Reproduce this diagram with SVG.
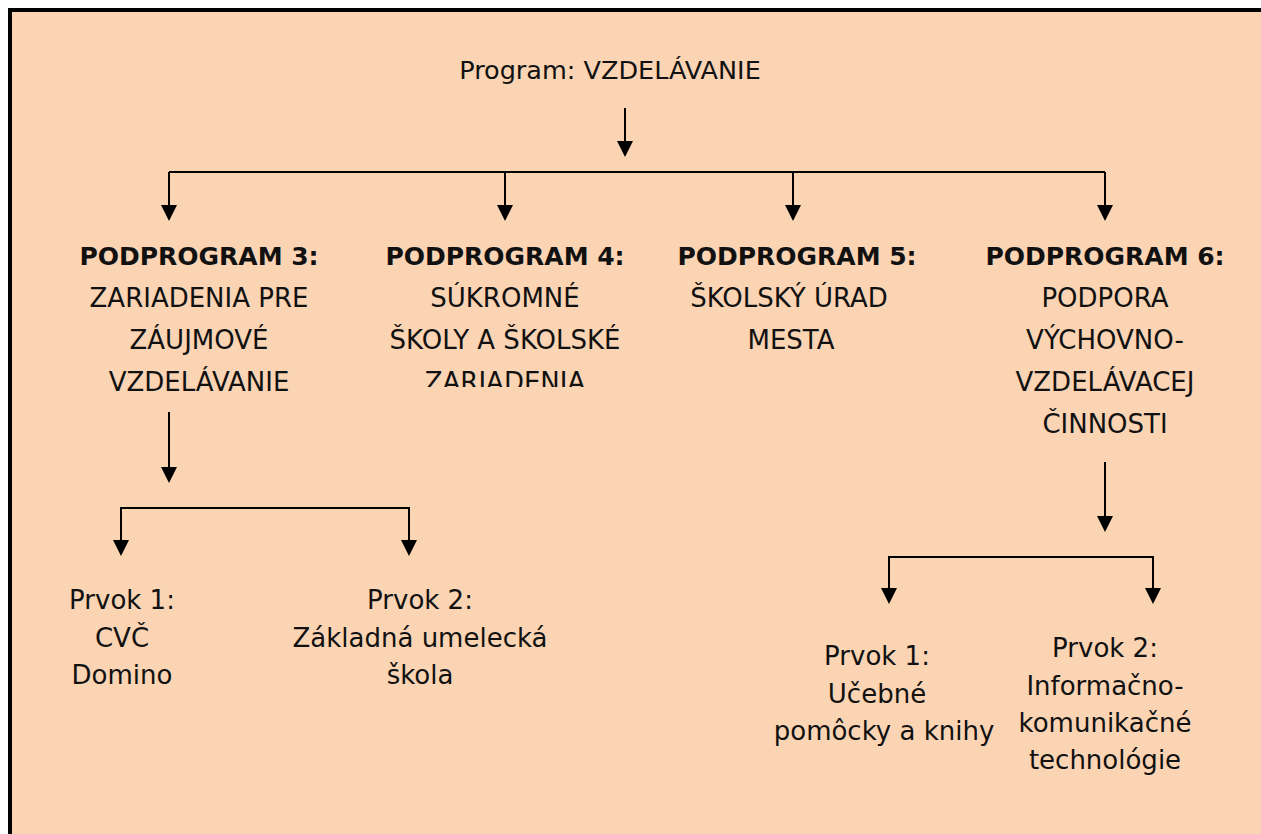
<svg xmlns="http://www.w3.org/2000/svg" width="1261" height="834" viewBox="0 0 1261 834">
<defs>
<style>
.t{font-family:"DejaVu Sans","Liberation Sans",sans-serif;font-size:26px;fill:#111;text-anchor:middle}
.h{font-weight:bold;font-size:25px}
.p{font-size:25.5px}
.c{stroke:#000;stroke-width:2;fill:none}
</style>
<clipPath id="clip4"><rect x="300" y="360" width="400" height="27"/></clipPath>
</defs>
<rect x="0" y="0" width="1261" height="834" fill="#fff"/>
<rect x="8" y="8" width="1253" height="826" fill="#000"/>
<rect x="12" y="12" width="1249" height="822" fill="#FBD4B4"/>

<g id="connectors">
<path class="c" d="M625,108 V143"/><path d="M617,141 L633,141 L625,157 Z"/>
<path class="c" d="M169,172 H1105"/>
<path class="c" d="M169,172 V207"/><path d="M161,205 L177,205 L169,221 Z"/>
<path class="c" d="M505,172 V207"/><path d="M497,205 L513,205 L505,221 Z"/>
<path class="c" d="M793,172 V207"/><path d="M785,205 L801,205 L793,221 Z"/>
<path class="c" d="M1105,172 V207"/><path d="M1097,205 L1113,205 L1105,221 Z"/>
<path class="c" d="M169,412 V469"/><path d="M161,467 L177,467 L169,483 Z"/>
<path class="c" d="M121,542 V508 H409 V542"/><path d="M113,540 L129,540 L121,556 Z"/><path d="M401,540 L417,540 L409,556 Z"/>
<path class="c" d="M1105,462 V518"/><path d="M1097,516 L1113,516 L1105,532 Z"/>
<path class="c" d="M889,590 V557 H1153 V590"/><path d="M881,588 L897,588 L889,604 Z"/><path d="M1145,588 L1161,588 L1153,604 Z"/>
</g>

<g id="program"><text class="t p" x="610" y="79">Program: VZDELÁVANIE</text></g>

<g id="podprogram3">
<text class="t h" x="199" y="265">PODPROGRAM 3:</text>
<text class="t" x="199" y="307">ZARIADENIA PRE</text>
<text class="t" x="199" y="349">ZÁUJMOVÉ</text>
<text class="t" x="199" y="391">VZDELÁVANIE</text>
</g>
<g id="podprogram4">
<text class="t h" x="505" y="265">PODPROGRAM 4:</text>
<text class="t" x="505" y="307">SÚKROMNÉ</text>
<text class="t" x="505" y="349">ŠKOLY A ŠKOLSKÉ</text>
<text class="t" x="505" y="391" clip-path="url(#clip4)">ZARIADENIA</text>
</g>
<g id="podprogram5">
<text class="t h" x="797" y="265">PODPROGRAM 5:</text>
<text class="t" x="789" y="307">ŠKOLSKÝ ÚRAD</text>
<text class="t" x="791" y="349">MESTA</text>
</g>
<g id="podprogram6">
<text class="t h" x="1105" y="265">PODPROGRAM 6:</text>
<text class="t" x="1105" y="307">PODPORA</text>
<text class="t" x="1105" y="349">VÝCHOVNO-</text>
<text class="t" x="1105" y="391">VZDELÁVACEJ</text>
<text class="t" x="1105" y="433">ČINNOSTI</text>
</g>
<g id="prvok3-1">
<text class="t" x="122" y="609">Prvok 1:</text>
<text class="t" x="122" y="647">CVČ</text>
<text class="t" x="122" y="684">Domino</text>
</g>
<g id="prvok3-2">
<text class="t" x="420" y="609">Prvok  2:</text>
<text class="t" x="420" y="647">Základná umelecká</text>
<text class="t" x="420" y="684">škola</text>
</g>
<g id="prvok6-1">
<text class="t" x="877" y="665">Prvok 1:</text>
<text class="t" x="877" y="703">Učebné</text>
<text class="t" x="884" y="740">pomôcky a knihy</text>
</g>
<g id="prvok6-2">
<text class="t" x="1105" y="657">Prvok  2:</text>
<text class="t" x="1105" y="695">Informačno-</text>
<text class="t" x="1105" y="732">komunikačné</text>
<text class="t" x="1105" y="769">technológie</text>
</g>
</svg>
